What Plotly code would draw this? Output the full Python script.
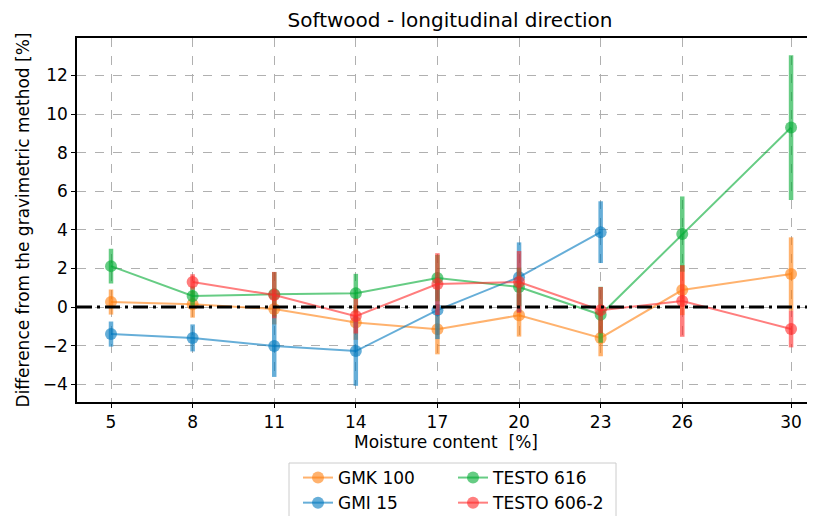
import plotly.graph_objects as go

# ---- data ----
x_all = [5, 8, 11, 14, 17, 20, 23, 26, 30]
x_gmi = [5, 8, 11, 14, 17, 20, 23]
x_606 = [8, 11, 14, 17, 20, 23, 26, 30]

gmk100 = [0.26, 0.15, -0.10, -0.80, -1.15, -0.43, -1.60, 0.88, 1.71]
gmk100_err = [0.65, 0.70, 0.80, 0.90, 1.30, 1.10, 0.95, 1.30, 1.90]

gmi15 = [-1.40, -1.60, -2.02, -2.28, -0.16, 1.55, 3.88]
gmi15_err = [0.65, 0.70, 1.60, 1.80, 1.50, 1.80, 1.60]

testo616 = [2.12, 0.57, 0.66, 0.72, 1.50, 1.04, -0.40, 3.78, 9.30]
testo616_err = [0.90, 0.50, 1.15, 1.00, 1.20, 1.00, 1.45, 1.95, 3.75]

testo606 = [1.30, 0.62, -0.47, 1.19, 1.30, -0.16, 0.31, -1.14]
testo606_err = [0.40, 1.20, 0.90, 1.60, 1.60, 1.20, 1.85, 0.95]

x_ticks = [5, 8, 11, 14, 17, 20, 23, 26, 30]
y_ticks = [-4, -2, 0, 2, 4, 6, 8, 10, 12]

FONT = "DejaVu Sans"
ALPHA = 0.6

series = [
    ("GMK 100", x_all, gmk100, gmk100_err, (255, 127, 14), "legend", 1),
    ("GMI 15", x_gmi, gmi15, gmi15_err, (0, 120, 190), "legend", 2),
    ("TESTO 616", x_all, testo616, testo616_err, (0, 170, 50), "legend2", 1),
    ("TESTO 606-2", x_606, testo606, testo606_err, (255, 40, 40), "legend2", 2),
]

fig = go.Figure()

for name, xs, ys, es, rgb, leg, rank in series:
    col = "rgba(%d,%d,%d,%.2f)" % (rgb[0], rgb[1], rgb[2], ALPHA)
    fig.add_trace(go.Scatter(
        x=xs, y=ys, name=name, mode="lines+markers",
        line=dict(color=col, width=2),
        marker=dict(color=col, size=12, symbol="circle"),
        error_y=dict(type="data", array=es, visible=True,
                     thickness=4.5, width=0, color=col),
        legend=leg, legendrank=rank, legendgroup=name,
    ))

# zero reference line
fig.add_shape(type="line", xref="paper", yref="y", x0=0, x1=1, y0=0, y1=0,
              line=dict(color="black", width=3, dash="15px,5px,3px,5px"),
              layer="above")

# page offset (browser body margin) -> work in figure pixels = reference - 8
PW, PH = 738, 364  # plot area size in px
L, T = 69, 30


def px_x(p):
    return (p - 8 - L) / PW


def px_y(p):
    return (T + PH - (p - 8)) / PH


# legend frame
fig.add_shape(type="rect", xref="paper", yref="paper",
              x0=px_x(289), x1=px_x(616), y0=px_y(530), y1=px_y(463),
              line=dict(color="#cccccc", width=1), fillcolor="rgba(0,0,0,0)")

fig.update_layout(
    width=807, height=508,
    margin=dict(l=L, r=0, t=T, b=508 - T - PH, autoexpand=False),
    paper_bgcolor="white", plot_bgcolor="white",
    font=dict(family=FONT, size=17, color="black"),
    title=dict(text="Softwood - longitudinal direction", x=px_x(450),
               xref="paper", xanchor="center", y=1 - 12 / 508, yanchor="middle",
               font=dict(family=FONT, size=20, color="black")),
    xaxis=dict(range=[3.75, 30.88], tickvals=x_ticks, ticktext=[str(v) for v in x_ticks],
               showgrid=True, gridcolor="#b0b0b0", griddash="dash", gridwidth=1,
               showline=True, linecolor="black", linewidth=1.5, mirror=True,
               ticks="outside", ticklen=4, tickcolor="black", tickwidth=1,
               zeroline=False, automargin=False,
               title=dict(text="Moisture content  [%]", font=dict(size=17), standoff=4),
               tickfont=dict(size=17)),
    yaxis=dict(range=[-4.92, 13.94], tickvals=y_ticks,
               ticktext=[("\u2212%d" % -v) if v < 0 else str(v) for v in y_ticks],
               showgrid=True, gridcolor="#b0b0b0", griddash="dash", gridwidth=1,
               showline=True, linecolor="black", linewidth=1.5, mirror=False,
               ticks="outside", ticklen=4, tickcolor="black", tickwidth=1,
               zeroline=False, automargin=False,
               title=dict(text="Difference from the gravimetric method [%]",
                          font=dict(size=17), standoff=9),
               tickfont=dict(size=17)),
    legend=dict(x=px_x(298), y=px_y(460), xanchor="left", yanchor="top",
                orientation="v", bgcolor="rgba(0,0,0,0)", borderwidth=0,
                font=dict(size=17), tracegroupgap=0, itemwidth=30,
                traceorder="grouped"),
    legend2=dict(x=px_x(453), y=px_y(460), xanchor="left", yanchor="top",
                 orientation="v", bgcolor="rgba(0,0,0,0)", borderwidth=0,
                 font=dict(size=17), tracegroupgap=0, itemwidth=30,
                 traceorder="grouped"),
    showlegend=True,
)

fig.write_html("out.html")
